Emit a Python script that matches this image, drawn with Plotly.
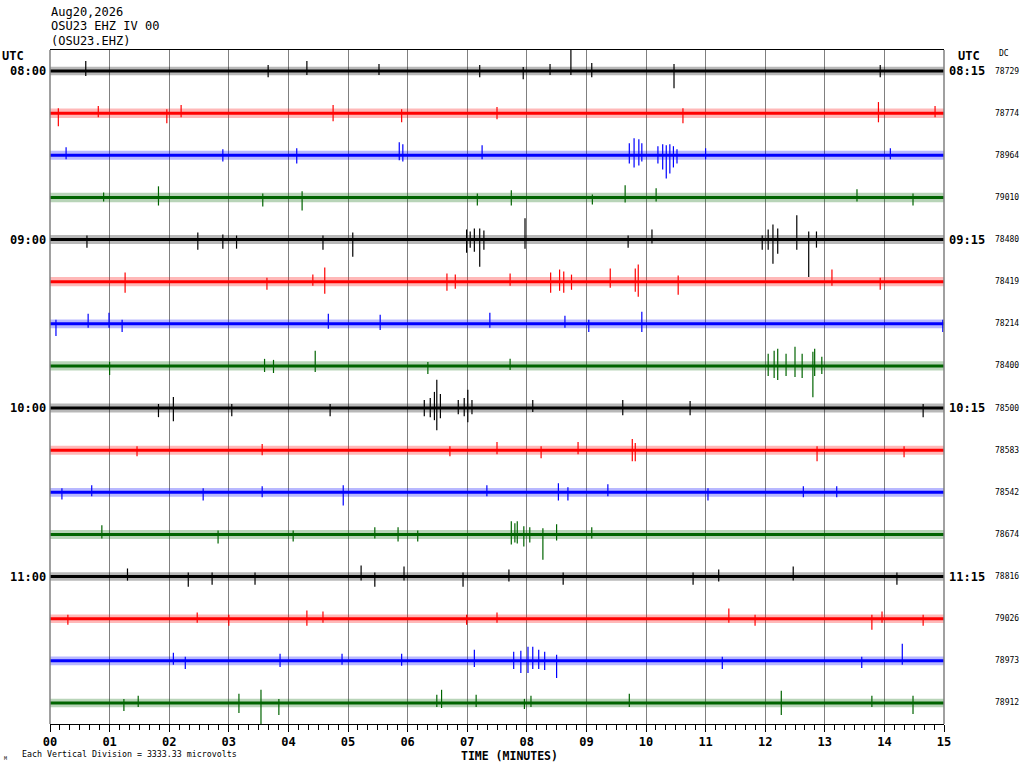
import plotly.graph_objects as go

minutes = list(range(16))
minute_labels = ["%02d" % m for m in minutes]

left_times = ["08:00", "09:00", "10:00", "11:00"]
right_times = ["08:15", "09:15", "10:15", "11:15"]
dc_values = ["78729", "78774", "78964", "79010", "78480", "78419", "78214", "78400",
             "78500", "78583", "78542", "78674", "78816", "79026", "78973", "78912"]

UV_PER_DIV = 3333.33   # each vertical division (one trace spacing)

# background noise half-width of each line, microvolts
noise_uv = [340, 380, 360, 380, 360, 370, 350, 370, 360, 360, 350, 360, 340, 340, 350, 340]

# spikes per line: (minute, up microvolts, down microvolts)
spikes_0800 = [(0.60, 800, 400), (3.66, 480, 480), (4.31, 800, 320), (5.52, 560, 320),
               (7.21, 480, 480), (7.94, 320, 640), (8.39, 560, 320), (8.74, 1680, 320),
               (9.09, 640, 480), (10.47, 560, 1360), (13.93, 480, 480)]
spikes_0815 = [(0.14, 400, 1040), (0.81, 560, 320), (1.96, 320, 800), (2.20, 640, 320),
               (4.75, 640, 640), (5.90, 320, 720), (7.50, 480, 480), (10.62, 400, 800),
               (13.90, 880, 720), (14.85, 560, 320)]
spikes_0830 = [(0.27, 640, 320), (2.90, 480, 480), (4.14, 560, 640), (5.86, 1040, 400),
               (5.92, 880, 480), (7.25, 800, 320), (9.72, 960, 640), (9.80, 1360, 960),
               (9.88, 1280, 800), (9.93, 960, 480), (10.20, 720, 640), (10.28, 880, 1120),
               (10.34, 800, 1840), (10.40, 880, 1440), (10.46, 720, 960), (10.52, 480, 640),
               (11.00, 560, 320), (14.10, 560, 320)]
spikes_0845 = [(0.90, 400, 320), (1.82, 880, 640), (3.57, 320, 720), (4.23, 480, 1040),
               (7.17, 320, 640), (7.74, 560, 640), (9.10, 240, 560), (9.65, 960, 400),
               (10.17, 720, 320), (13.54, 640, 320), (14.48, 320, 640)]
spikes_0900 = [(0.62, 320, 640), (2.48, 560, 800), (2.90, 400, 720), (3.13, 320, 720),
               (4.58, 320, 800), (5.08, 560, 1360), (6.99, 800, 1040), (7.05, 640, 640),
               (7.12, 880, 960), (7.21, 880, 2160), (7.28, 720, 800), (7.97, 1680, 720),
               (9.70, 320, 640), (10.10, 800, 320), (11.95, 320, 800), (12.05, 800, 800),
               (12.13, 1200, 1920), (12.21, 880, 1120), (12.53, 1920, 800), (12.73, 640, 2960),
               (12.86, 640, 640)]
spikes_0915 = [(1.26, 720, 880), (3.64, 320, 640), (4.41, 560, 320), (4.61, 1120, 960),
               (6.66, 640, 720), (6.80, 560, 560), (7.72, 640, 320), (8.40, 720, 880),
               (8.55, 960, 720), (8.62, 800, 880), (8.75, 560, 640), (9.40, 1040, 480),
               (9.82, 1040, 800), (9.87, 1360, 1200), (10.54, 480, 1040), (13.12, 960, 320),
               (13.93, 320, 640)]
spikes_0930 = [(0.10, 320, 960), (0.64, 800, 320), (0.99, 880, 320), (1.21, 320, 640),
               (4.67, 800, 400), (5.54, 720, 480), (7.38, 880, 320), (8.64, 640, 320),
               (9.04, 320, 640), (9.93, 960, 640), (14.98, 320, 640)]
spikes_0945 = [(1.00, 320, 720), (3.60, 560, 480), (3.75, 480, 560), (4.45, 1200, 480),
               (6.34, 320, 640), (7.72, 560, 320), (12.05, 960, 800), (12.15, 1200, 960),
               (12.21, 1360, 1120), (12.35, 960, 800), (12.50, 1520, 880), (12.62, 960, 960),
               (12.80, 1120, 2480), (12.83, 1360, 800), (12.95, 720, 640)]
spikes_1000 = [(1.82, 320, 720), (2.07, 880, 1040), (3.05, 320, 640), (4.70, 320, 640),
               (6.28, 640, 640), (6.38, 800, 720), (6.45, 1280, 960), (6.49, 2240, 1760),
               (6.55, 1120, 800), (6.85, 640, 480), (6.95, 800, 640), (7.01, 1440, 1120),
               (7.08, 640, 480), (8.10, 640, 320), (9.61, 640, 560), (10.74, 560, 560),
               (14.65, 320, 720)]
spikes_1015 = [(1.46, 320, 480), (3.56, 480, 400), (6.71, 320, 480), (7.50, 640, 320),
               (8.24, 320, 640), (8.86, 640, 320), (9.77, 880, 880), (9.82, 560, 880),
               (12.87, 320, 880), (14.33, 320, 560)]
spikes_1030 = [(0.20, 320, 560), (0.70, 560, 320), (2.57, 320, 640), (3.56, 480, 400),
               (4.92, 560, 1040), (7.33, 560, 320), (8.53, 720, 640), (8.69, 400, 640),
               (9.36, 640, 320), (11.04, 320, 640), (12.64, 480, 400), (13.20, 480, 400)]
spikes_1045 = [(0.87, 720, 320), (2.82, 320, 720), (4.08, 320, 560), (5.45, 560, 320),
               (5.84, 560, 560), (6.17, 320, 560), (7.74, 1040, 800), (7.80, 880, 640),
               (7.84, 1040, 720), (7.95, 640, 960), (8.05, 560, 640), (8.27, 480, 2000),
               (8.50, 800, 480), (9.09, 560, 320)]
spikes_1100 = [(1.30, 640, 320), (2.32, 320, 800), (2.72, 320, 640), (3.44, 320, 640),
               (5.22, 880, 320), (5.45, 320, 800), (5.94, 800, 320), (6.93, 320, 800),
               (7.70, 560, 400), (8.61, 320, 640), (10.79, 320, 640), (11.22, 560, 400),
               (12.47, 800, 320), (14.21, 320, 640)]
spikes_1115 = [(0.30, 320, 480), (2.47, 480, 320), (3.00, 320, 560), (4.31, 640, 560),
               (4.58, 560, 320), (6.99, 320, 480), (7.50, 480, 320), (11.39, 800, 320),
               (11.83, 320, 560), (13.79, 320, 880), (13.96, 560, 320), (14.65, 320, 560)]
spikes_1130 = [(2.07, 640, 320), (2.27, 320, 640), (3.86, 560, 480), (4.90, 560, 320),
               (5.90, 560, 400), (7.12, 880, 480), (7.78, 720, 640), (7.90, 800, 960),
               (8.02, 1120, 960), (8.10, 1120, 640), (8.20, 880, 640), (8.30, 720, 720),
               (8.50, 480, 1360), (11.28, 320, 640), (13.62, 320, 560), (14.30, 1360, 320)]
spikes_1145 = [(1.24, 320, 640), (1.48, 560, 320), (3.17, 720, 800), (3.54, 1040, 3200),
               (3.84, 320, 960), (6.49, 640, 320), (6.57, 1040, 400), (7.15, 640, 320),
               (7.96, 320, 480), (8.07, 560, 320), (9.72, 720, 320), (12.27, 960, 960),
               (13.79, 560, 320), (14.48, 560, 880)]

spikes = [spikes_0800, spikes_0815, spikes_0830, spikes_0845,
          spikes_0900, spikes_0915, spikes_0930, spikes_0945,
          spikes_1000, spikes_1015, spikes_1030, spikes_1045,
          spikes_1100, spikes_1115, spikes_1130, spikes_1145]

line_colors = ["#000000", "#ff0000", "#0000ff", "#006400"]

# plot area in pixels, used to place the loose labels
L, R, T, B = 50, 944, 50, 724
def px_x(px):
    return (px - L) / (R - L)
def px_y(py):
    return (B - py) / (B - T)

MONO = "DejaVu Sans Mono"

fig = go.Figure()

for i, row in enumerate(spikes):
    off = -i
    col = line_colors[i % 4]
    n = noise_uv[i] / UV_PER_DIV
    # noise band
    fig.add_trace(go.Scatter(x=[0, 15, 15, 0, 0], y=[off + n, off + n, off - n, off - n, off + n],
                             fill="toself", fillcolor=col, opacity=0.28,
                             line=dict(width=0), mode="lines", hoverinfo="skip"))
    # dense core of the trace
    fig.add_trace(go.Scatter(x=[0, 15], y=[off, off], mode="lines",
                             line=dict(color=col, width=3), hoverinfo="skip"))
    # spikes
    xs, ys = [], []
    for t, up, dn in row:
        xs += [t, t, None]
        ys += [off + up / UV_PER_DIV, off - dn / UV_PER_DIV, None]
    fig.add_trace(go.Scatter(x=xs, y=ys, mode="lines",
                             line=dict(color=col, width=1.2), hoverinfo="skip"))

ann = []
hdr = ["Aug20,2026", "OSU23 EHZ IV 00", "(OSU23.EHZ)"]
for k, txt in enumerate(hdr):
    ann.append(dict(text=txt, x=px_x(49), y=px_y(12 + 14.5 * k), xanchor="left", yanchor="middle",
                    font=dict(family=MONO, size=12, color="black")))

for k, txt in enumerate(left_times):
    ann.append(dict(text="<b>%s</b>" % txt, xref="paper", yref="y", x=px_x(48), y=-4 * k,
                    xanchor="right", yanchor="middle",
                    font=dict(family=MONO, size=12, color="black")))
for k, txt in enumerate(right_times):
    ann.append(dict(text="<b>%s</b>" % txt, xref="paper", yref="y", x=px_x(947), y=-4 * k,
                    xanchor="left", yanchor="middle",
                    font=dict(family=MONO, size=12, color="black")))
for i, txt in enumerate(dc_values):
    ann.append(dict(text=txt, xref="paper", yref="y", x=px_x(1007), y=-i,
                    xanchor="center", yanchor="middle",
                    font=dict(family=MONO, size=8, color="black")))

ann.append(dict(text="<b>UTC</b>", x=px_x(0), y=px_y(56), xanchor="left", yanchor="middle",
                font=dict(family=MONO, size=12, color="black")))
ann.append(dict(text="<b>UTC</b>", x=px_x(969), y=px_y(56), xanchor="center", yanchor="middle",
                font=dict(family=MONO, size=12, color="black")))
ann.append(dict(text="DC", x=px_x(1004), y=px_y(54), xanchor="center", yanchor="middle",
                font=dict(family=MONO, size=8, color="black")))
ann.append(dict(text="<b>TIME (MINUTES)</b>", x=px_x(509), y=px_y(755.5), xanchor="center",
                yanchor="middle", font=dict(family=MONO, size=11.5, color="black")))
ann.append(dict(text="Each Vertical Division = 3333.33 microvolts", x=px_x(20), y=px_y(754),
                xanchor="left", yanchor="middle", font=dict(family=MONO, size=8.3, color="black")))
ann.append(dict(text="M", x=px_x(2), y=px_y(758), xanchor="left", yanchor="middle",
                font=dict(family=MONO, size=5, color="black")))

for a in ann:
    a.setdefault("xref", "paper")
    a.setdefault("yref", "paper")
    a["showarrow"] = False

fig.update_layout(
    width=1024, height=768,
    margin=dict(l=L, r=1024 - R, t=T, b=768 - B),
    paper_bgcolor="white", plot_bgcolor="white",
    showlegend=False,
    annotations=ann,
    xaxis=dict(range=[0, 15], tickvals=minutes, ticktext=minute_labels,
               ticks="outside", ticklen=7, tickwidth=1, tickcolor="black",
               tickfont=dict(family=MONO, size=12, color="black", weight="bold"),
               showgrid=True, gridcolor="#808080", gridwidth=1, zeroline=False,
               showline=True, linecolor="black", linewidth=1, mirror=True,
               minor=dict(dtick=1 / 6, ticks="outside", ticklen=5, tickcolor="black",
                          tickwidth=1, showgrid=False)),
    yaxis=dict(range=[-15.5, 0.5], showticklabels=False, showgrid=False, zeroline=False,
               ticks="", showline=False),
)

# gray side borders
fig.add_shape(type="line", xref="paper", yref="paper", x0=0, x1=0, y0=0, y1=1,
              line=dict(color="#808080", width=1.5))
fig.add_shape(type="line", xref="paper", yref="paper", x0=1, x1=1, y0=0, y1=1,
              line=dict(color="#808080", width=1.5))

# the page's default 8px body margin would shift the figure
fig.write_html("out.html", config={"displayModeBar": False},
               post_script="document.body.style.margin='0px';")
